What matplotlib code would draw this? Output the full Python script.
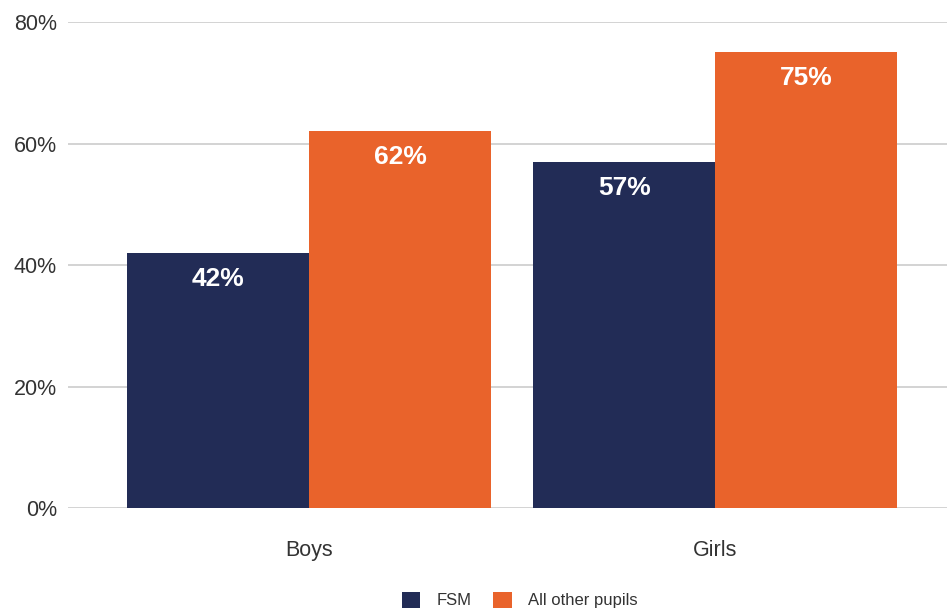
import numpy as np
import matplotlib.pyplot as plt
from matplotlib.ticker import FuncFormatter

groups = ["Boys", "Girls"]
fsm = [42, 57]
others = [62, 75]
series_names = ["FSM", "All other pupils"]
navy = "#222c56"
orange = "#e9632b"

plt.rcParams['font.family'] = ['Liberation Sans', 'DejaVu Sans']

fig = plt.figure(figsize=(9.47, 6.14), dpi=100)
ax = fig.add_axes([0.0718, 0.1726, 0.9282, 0.7915])

x = np.arange(len(groups))
w = 0.448
b1 = ax.bar(x - w/2, fsm, w, color=navy, label=series_names[0], zorder=3)
b2 = ax.bar(x + w/2, others, w, color=orange, label=series_names[1], zorder=3)

# value labels inside the top of each bar
for bars, vals in ((b1, fsm), (b2, others)):
    for r, v in zip(bars, vals):
        ax.text(r.get_x() + r.get_width()/2, v - 2.3, f"{v}%", ha='center', va='top',
                color='white', fontsize=19, fontweight='bold', zorder=4)

ax.set_ylim(0, 80)
ax.set_xlim(-0.594, 1.571)
ax.set_yticks([0, 20, 40, 60, 80])
ax.yaxis.set_major_formatter(FuncFormatter(lambda v, p: f"{v:.0f}%"))
ax.grid(axis='y', color='#d0d0d0', linewidth=1.3, zorder=0)
ax.set_xticks(x)
ax.set_xticklabels(groups)
for s in ax.spines.values():
    s.set_visible(False)
ax.tick_params(axis='both', length=0, labelsize=15.5, colors='#333333')
ax.tick_params(axis='y', pad=8)
ax.tick_params(axis='x', pad=23)

leg = fig.legend(handles=[b1, b2], loc='center', bbox_to_anchor=(0.549, 0.023), ncol=2,
                 frameon=False, fontsize=12, handlelength=1.1, handleheight=1.1,
                 columnspacing=1.3, handletextpad=1.0)
for t in leg.get_texts():
    t.set_color('#333333')

fig.savefig("out.png", dpi=100)
